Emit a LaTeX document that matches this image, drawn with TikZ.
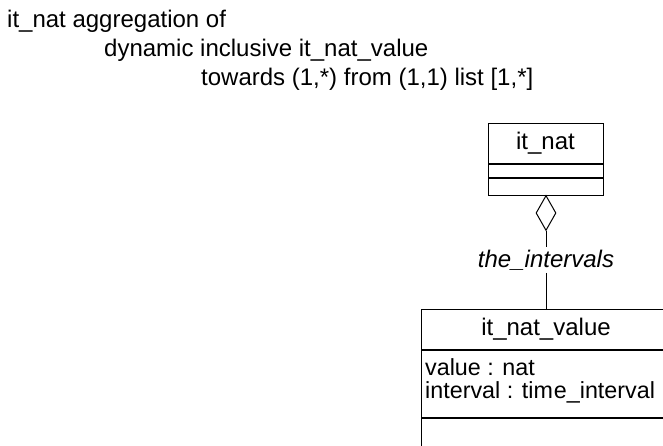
\documentclass[tikz,border=0pt]{standalone}
\usepackage{fontspec}
\setmainfont{Liberation Sans}
\usetikzlibrary{shapes.geometric}
\begin{document}
\begin{tikzpicture}[x=1pt,y=-1pt,
  font=\fontsize{24}{27}\selectfont,
  txt/.style={inner sep=0pt, anchor=base west},
  attr/.style={inner sep=0pt, anchor=base west, font=\fontsize{23.3}{26}\selectfont},
  box/.style={draw=black, line width=1pt, inner sep=0pt, anchor=north},
  conn/.style={draw=black, line width=1pt}]
\useasboundingbox (0,0) rectangle (663,446);
\clip (0,0) rectangle (663,446);
% heading text
\node[txt] (l1) at (7,28) {it\_nat aggregation of};
\node[txt] (l2) at (104,57) {dynamic inclusive it\_nat\_value};
\node[txt] (l3) at (201,86) {towards (1,*) from (1,1) list [1,*]};
% class it_nat
\node[box, minimum width=115pt, minimum height=40pt] (c1) at (545.5,123) {it\_nat};
\node[box, minimum width=115pt, minimum height=13pt] (c1a) at (c1.south) {};
\node[box, minimum width=115pt, minimum height=17pt] (c1b) at (c1a.south) {};
% aggregation diamond
\node[diamond, draw=black, line width=1pt, inner sep=0pt, minimum width=20pt, minimum height=35pt, anchor=north] (dia) at (546,195) {};
% role label
\node[inner xsep=0pt, inner ysep=2.5pt, font=\fontsize{24}{27}\selectfont\itshape] (lab) at (546,260) {the\_intervals};
% class it_nat_value
\node[box, minimum width=250pt, minimum height=40pt] (c2) at (546,309) {it\_nat\_value};
\node[box, minimum width=250pt, minimum height=67pt] (c2a) at (c2.south) {};
\node[box, minimum width=250pt, minimum height=60pt] (c2b) at (c2a.south) {};
\node[attr] (attr1) at (425,375) {value : nat};
\node[attr] (attr2) at (425,398) {interval : tim\kern1pt e\_interval};
% connectors
\draw[conn] (dia.south) -- (lab.north);
\draw[conn] (lab.south) -- (c2.north);
\end{tikzpicture}
\end{document}
